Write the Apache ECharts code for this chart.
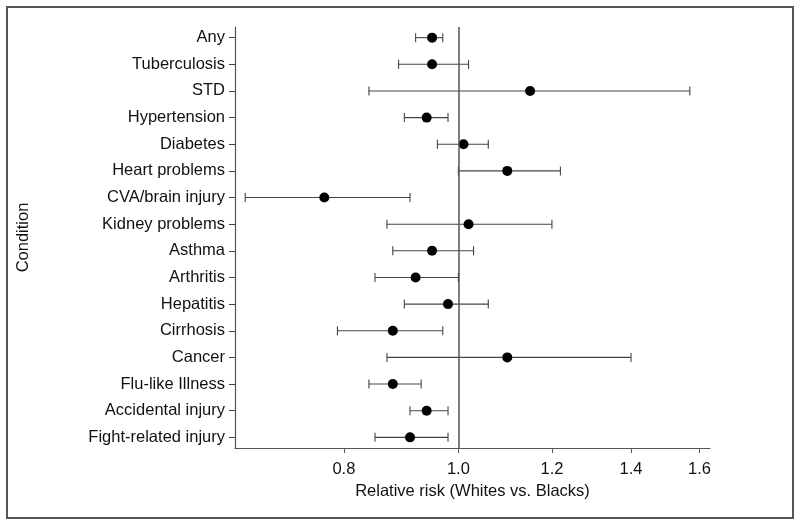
<!DOCTYPE html>
<html><head><meta charset="utf-8">
<script src="https://cdn.jsdelivr.net/npm/echarts@6/dist/echarts.min.js"></script>
<style>html,body{margin:0;padding:0;background:#fff}#c{width:800px;height:525px}</style>
</head><body><div id="c"></div>
<script>
const conditions = ["Any","Tuberculosis","STD","Hypertension","Diabetes","Heart problems","CVA/brain injury","Kidney problems","Asthma","Arthritis","Hepatitis","Cirrhosis","Cancer","Flu-like Illness","Accidental injury","Fight-related injury"];
const rr    = [0.95,0.95,1.15,0.94,1.01,1.10,0.77,1.02,0.95,0.92,0.98,0.88,1.10,0.88,0.94,0.91];
const ciLow = [0.92,0.89,0.84,0.90,0.96,1.00,0.66,0.87,0.88,0.85,0.90,0.79,0.87,0.84,0.91,0.85];
const ciHigh= [0.97,1.02,1.57,0.98,1.06,1.22,0.91,1.20,1.03,1.00,1.06,0.97,1.40,0.93,0.98,0.98];
const xTicks = [0.8,1.0,1.2,1.4,1.6];
const xMin = 0.647, xMax = 1.633, refValue = 1.0;

const L = Math.log;
const chart = echarts.init(document.getElementById('c'));
const axisCol = '#555';
const font = 'Liberation Sans, Arial, sans-serif';
chart.setOption({
  animation:false,
  backgroundColor:'#fff',
  graphic:[{type:'rect',shape:{x:7,y:7,width:786,height:511},style:{fill:'none',stroke:'#555',lineWidth:2}}],
  grid:{left:235,right:90,top:27,bottom:77},
  xAxis:{type:'value',min:L(xMin),max:L(xMax),
    name:'Relative risk (Whites vs. Blacks)',nameLocation:'middle',nameGap:35,
    nameTextStyle:{fontSize:16.5,color:'#111',fontFamily:font},
    splitLine:{show:false},
    axisLine:{onZero:false,lineStyle:{color:axisCol,width:1.2}},
    axisTick:{show:true,length:5,customValues:xTicks.map(L),lineStyle:{color:axisCol}},
    axisLabel:{customValues:xTicks.map(L),formatter:v=>Math.exp(v).toFixed(1),fontSize:16.5,color:'#111',fontFamily:font,margin:13}
  },
  yAxis:{type:'value',inverse:true,min:-0.4,max:conditions.length-0.6,
    name:'Condition',nameLocation:'middle',nameGap:203,nameRotate:90,
    nameTextStyle:{fontSize:16.5,color:'#111',fontFamily:font},
    splitLine:{show:false},
    axisLine:{show:true,onZero:false,lineStyle:{color:axisCol,width:1.2}},
    axisTick:{show:true,length:6,customValues:conditions.map((c,i)=>i),lineStyle:{color:'#444'}},
    axisLabel:{customValues:conditions.map((c,i)=>i),formatter:v=>conditions[Math.round(v)],fontSize:16.5,color:'#111',fontFamily:font,margin:10,padding:[3,0,0,0]}
  },
  series:[
    {type:'custom',
     data:conditions.map((c,i)=>[L(ciLow[i]),L(ciHigh[i]),i]),
     renderItem:function(params,api){
       const a=api.coord([api.value(0),api.value(2)]);
       const b=api.coord([api.value(1),api.value(2)]);
       const h=4.5;
       const st={stroke:'#444',lineWidth:1.1};
       return {type:'group',children:[
         {type:'line',shape:{x1:a[0],y1:a[1],x2:b[0],y2:b[1]},style:st},
         {type:'line',shape:{x1:a[0],y1:a[1]-h,x2:a[0],y2:a[1]+h},style:st},
         {type:'line',shape:{x1:b[0],y1:b[1]-h,x2:b[0],y2:b[1]+h},style:st}
       ]};
     },z:2},
    {type:'scatter',symbol:'circle',symbolSize:10,itemStyle:{color:'#000',opacity:1},
     data:conditions.map((c,i)=>[L(rr[i]),i]),z:3,
     markLine:{silent:true,symbol:'none',label:{show:false},lineStyle:{color:'#555',width:1.5,type:'solid'},
       data:[{xAxis:L(refValue)}]}
    }
  ]
});
</script></body></html>
